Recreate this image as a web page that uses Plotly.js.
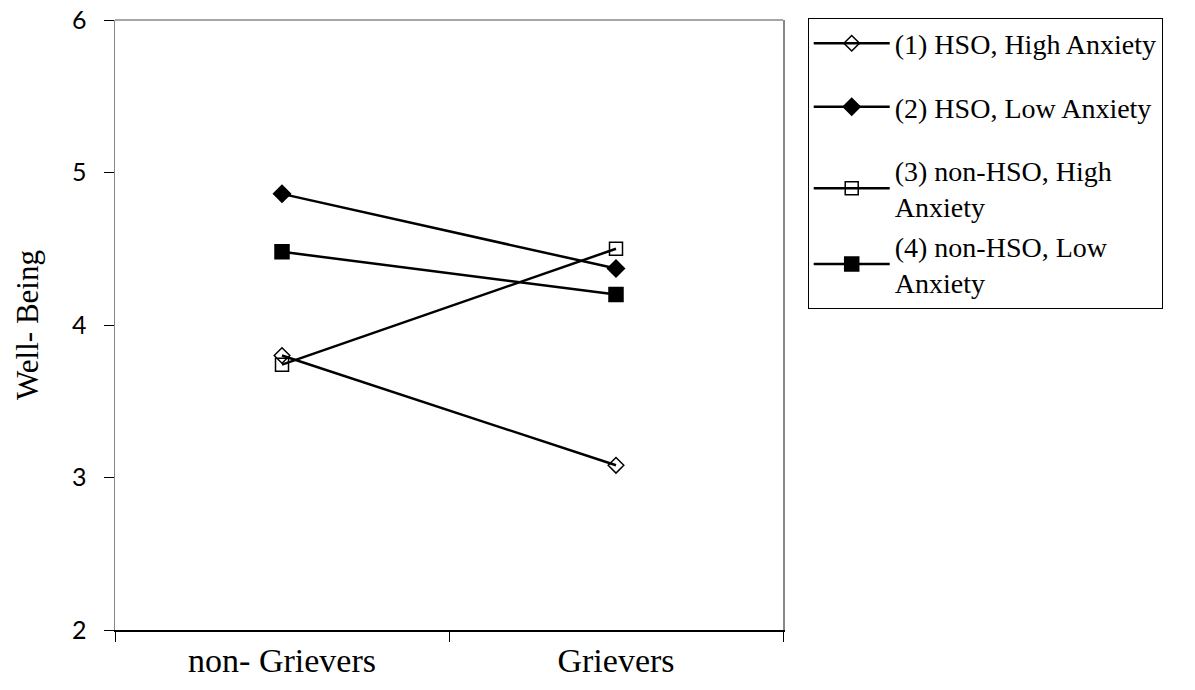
<!DOCTYPE html>
<html>
<head>
<meta charset="utf-8">
<script src="https://cdn.plot.ly/plotly-3.0.1.min.js"></script>
<style>html,body{margin:0;padding:0;background:#fff;}#chart{width:1195px;height:690px;}</style>
</head>
<body>
<div id="chart"></div>
<script>
const categories = ["non- Grievers", "Grievers"];
const seriesNames = ["(1) HSO, High Anxiety", "(2) HSO, Low Anxiety", "(3) non-HSO, High<br>Anxiety", "(4) non-HSO, Low<br>Anxiety"];
const hsoHigh = [3.80, 3.08];
const hsoLow = [4.86, 4.37];
const nonHsoHigh = [3.74, 4.50];
const nonHsoLow = [4.48, 4.20];
const yTicks = [2, 3, 4, 5, 6];

const seriesValues = [hsoHigh, hsoLow, nonHsoHigh, nonHsoLow];
const symbols = ["diamond-open", "diamond", "square-open", "square"];
const sizes = [12, 13, 13, 14];
const groups = ["g0", "g1", "g2", "g2"];

const traces = seriesValues.map((vals, i) => ({
  x: categories,
  y: vals,
  name: seriesNames[i],
  type: "scatter",
  mode: "lines+markers",
  line: {color: "#000", width: 2.5},
  marker: {symbol: symbols[i], size: sizes[i], color: "#000", line: {color: "#000", width: 1.5}},
  legendgroup: groups[i]
}));

const layout = {
  width: 1195, height: 690,
  margin: {l: 115, r: 412, t: 20, b: 60},
  paper_bgcolor: "#fff", plot_bgcolor: "#fff",
  showlegend: true,
  legend: {
    x: 1.037, y: 1.004, xanchor: "left", yanchor: "top",
    bordercolor: "#000", borderwidth: 1,
    font: {family: "Liberation Serif, Times New Roman, serif", size: 28, color: "#000"},
    traceorder: "grouped", tracegroupgap: 24,
    itemwidth: 76
  },
  xaxis: {
    type: "category", range: [-0.5, 1.5],
    tickson: "boundaries", ticks: "outside", ticklen: 10, tickcolor: "#000",
    showline: true, linecolor: "#000", linewidth: 1.5,
    showgrid: false, zeroline: false,
    tickfont: {family: "Liberation Serif, Times New Roman, serif", size: 34, color: "#000"}
  },
  yaxis: {
    range: [2, 6], tickvals: yTicks, ticktext: yTicks.map(String),
    ticks: "outside", ticklen: 10, tickcolor: "#000",
    ticklabelstandoff: 12,
    showline: true, linecolor: "#888", linewidth: 1.5, mirror: true,
    showgrid: false, zeroline: false,
    tickfont: {family: "Lato, Open Sans, sans-serif", size: 25, color: "#000"},
    title: {text: "Well- Being", standoff: 24, font: {family: "Liberation Serif, Times New Roman, serif", size: 31, color: "#000"}}
  },
  shapes: [
    {type: "line", xref: "paper", yref: "paper", x0: 0, x1: 1, y0: 1, y1: 1, line: {color: "#888", width: 1.5}}
  ]
};

Plotly.newPlot("chart", traces, layout, {displayModeBar: false, staticPlot: true});
</script>
</body>
</html>
